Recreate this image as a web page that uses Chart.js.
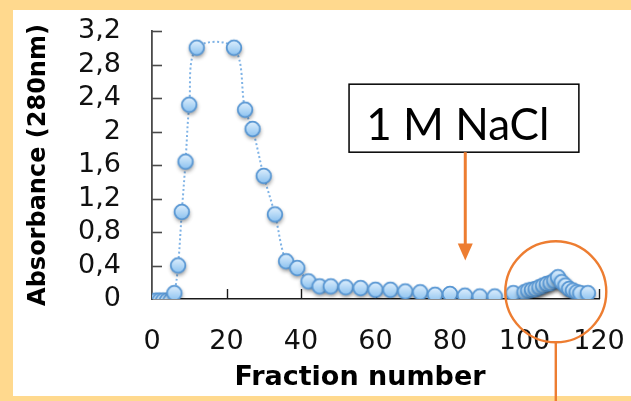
<!DOCTYPE html>
<html>
<head>
<meta charset="utf-8">
<script src="https://cdn.jsdelivr.net/npm/chart.js@4.4.1/dist/chart.umd.min.js"></script>
<style>
  html, body { margin: 0; padding: 0; background: #ffd98e; }
  #wrap { width: 631px; height: 401px; }
</style>
</head>
<body>
<div id="wrap"><canvas id="c" width="631" height="401"></canvas></div>
<script>
// Elution profile: absorbance at 280 nm per collected fraction
const fractions = [1, 2, 3, 4, 5, 6, 7, 8, 9, 10, 12, 22, 25, 27, 30, 33, 36, 39, 42, 45,
  48, 52, 56, 60, 64, 68, 72, 76, 80, 84, 88, 92, 97, 100, 101, 102, 103, 104, 105, 106,
  107, 108, 109, 110, 111, 112, 113, 114, 115, 117];
const absorbance = [-0.02, -0.02, -0.02, -0.02, -0.02, 0.07, 0.40, 1.04, 1.64, 2.32, 3.00, 3.00, 2.26, 2.03, 1.47, 1.01, 0.45, 0.37, 0.21, 0.15,
  0.15, 0.14, 0.13, 0.11, 0.11, 0.09, 0.08, 0.05, 0.06, 0.04, 0.03, 0.03, 0.07, 0.08, 0.10, 0.11, 0.12, 0.14, 0.16, 0.18,
  0.19, 0.22, 0.26, 0.20, 0.16, 0.12, 0.10, 0.08, 0.07, 0.07];

const xTickValues = [0, 20, 40, 60, 80, 100, 120];
const yTickValues = [0, 0.4, 0.8, 1.2, 1.6, 2, 2.4, 2.8, 3.2];

const xTitle = 'Fraction number';
const yTitle = 'Absorbance (280nm)';
const boxLabel = '1 M NaCl';

// Glossy blue marker with a soft drop shadow
function makeMarker() {
  const s = 30, c = document.createElement('canvas');
  c.width = s; c.height = s;
  const g = c.getContext('2d');
  const cx = s / 2, cy = s / 2, r = 7.3;
  g.save();
  g.shadowColor = 'rgba(0,0,0,0.45)';
  g.shadowBlur = 4;
  g.shadowOffsetX = 0.5;
  g.shadowOffsetY = 2.5;
  const grad = g.createLinearGradient(0, cy - r, 0, cy + r);
  grad.addColorStop(0, '#deeffd');
  grad.addColorStop(1, '#8cc2f0');
  g.beginPath(); g.arc(cx, cy, r, 0, Math.PI * 2);
  g.fillStyle = grad; g.fill();
  g.restore();
  g.beginPath(); g.arc(cx, cy, r, 0, Math.PI * 2);
  g.lineWidth = 1.8; g.strokeStyle = '#5796d3'; g.stroke();
  return c;
}
const marker = makeMarker();

const points = fractions.map((f, i) => ({ x: f, y: absorbance[i] }));

const ORANGE = '#ed7d31';

const decor = {
  id: 'decor',
  beforeDraw(chart) {
    const ctx = chart.ctx;
    ctx.save();
    ctx.fillStyle = '#ffd98e';
    ctx.fillRect(0, 0, chart.width, chart.height);
    ctx.fillStyle = '#ffffff';
    ctx.fillRect(13, 10, chart.width - 13, 386);
    ctx.restore();
  },
  beforeDatasetsDraw(chart) {
    // inward tick marks on both axes
    const ctx = chart.ctx, xs = chart.scales.x, ys = chart.scales.y;
    const a = chart.chartArea;
    ctx.save();
    ctx.strokeStyle = '#4a4a4a';
    ctx.lineWidth = 1.6;
    yTickValues.forEach(v => {
      if (v === 0) return;
      const y = Math.round(ys.getPixelForValue(v)) + 0.5;
      ctx.beginPath(); ctx.moveTo(a.left, y); ctx.lineTo(a.left + 10, y); ctx.stroke();
    });
    ctx.strokeStyle = '#1a1a1a';
    ctx.lineWidth = 1.4;
    xTickValues.forEach(v => {
      if (v === 0) return;
      const x = Math.round(xs.getPixelForValue(v)) + 0.5;
      ctx.beginPath(); ctx.moveTo(x, a.bottom); ctx.lineTo(x, a.bottom - 10); ctx.stroke();
    });
    ctx.restore();
  },
  afterDraw(chart) {
    const ctx = chart.ctx, xs = chart.scales.x, ys = chart.scales.y;
    ctx.save();

    // x axis title
    ctx.fillStyle = '#000';
    ctx.font = 'bold 27px "DejaVu Sans"';
    ctx.textAlign = 'center';
    ctx.textBaseline = 'alphabetic';
    ctx.fillText(xTitle, 360, 385);

    // "1 M NaCl" label box
    const bx1 = xs.getPixelForValue(52.9), bx2 = xs.getPixelForValue(114.6);
    const by1 = ys.getPixelForValue(2.565), by2 = ys.getPixelForValue(1.753);
    ctx.fillStyle = '#fff';
    ctx.fillRect(bx1, by1, bx2 - bx1, by2 - by1);
    ctx.strokeStyle = '#000';
    ctx.lineWidth = 1.5;
    ctx.strokeRect(bx1, by1, bx2 - bx1, by2 - by1);
    ctx.fillStyle = '#000';
    ctx.font = '44px Lato';
    ctx.textAlign = 'center';
    ctx.fillText(boxLabel, xs.getPixelForValue(82.1), ys.getPixelForValue(1.896));

    // arrow from the box down to the baseline region
    const ax = xs.getPixelForValue(84.1);
    const tipY = ys.getPixelForValue(0.46);
    ctx.strokeStyle = ORANGE;
    ctx.fillStyle = ORANGE;
    ctx.lineWidth = 3;
    ctx.beginPath(); ctx.moveTo(ax, by2); ctx.lineTo(ax, tipY - 14); ctx.stroke();
    ctx.beginPath();
    ctx.moveTo(ax - 7.5, tipY - 17);
    ctx.lineTo(ax + 7.5, tipY - 17);
    ctx.lineTo(ax, tipY);
    ctx.closePath(); ctx.fill();

    // circle around the late peak with a leader line
    const cx = xs.getPixelForValue(108.4), cy = ys.getPixelForValue(0.086);
    const r = 50.5;
    ctx.lineWidth = 2.4;
    ctx.beginPath(); ctx.arc(cx, cy, r, 0, Math.PI * 2); ctx.stroke();
    ctx.beginPath(); ctx.moveTo(cx, cy + r); ctx.lineTo(cx, chart.height); ctx.stroke();

    ctx.restore();
  }
};

const tickFont = { family: '"DejaVu Sans"', size: 27, weight: 'normal' };

new Chart(document.getElementById('c'), {
  type: 'line',
  data: {
    datasets: [{
      data: points,
      borderColor: '#7fb3e6',
      borderWidth: 2,
      borderDash: [2, 2.5],
      tension: 0.35,
      pointStyle: marker,
      pointRadius: 7,
      pointHoverRadius: 7,
      fill: false
    }]
  },
  options: {
    responsive: false,
    animation: false,
    devicePixelRatio: 1,
    layout: { padding: { left: 13, right: 32, top: 31, bottom: 6 } },
    plugins: { legend: { display: false }, tooltip: { enabled: false } },
    scales: {
      x: {
        type: 'linear',
        min: 0, max: 120,
        afterBuildTicks: s => { s.ticks = xTickValues.map(v => ({ value: v })); },
        afterFit: s => { s.height = 96; s.paddingLeft = 0; s.paddingRight = 0; },
        grid: { drawOnChartArea: false, drawTicks: false },
        border: { display: true, color: '#1a1a1a', width: 1.4 },
        ticks: {
          autoSkip: false, maxRotation: 0, padding: 27,
          color: '#111', font: tickFont
        },
        title: { display: false }
      },
      y: {
        min: 0, max: 3.2,
        afterBuildTicks: s => { s.ticks = yTickValues.map(v => ({ value: v })); },
        afterFit: s => { s.width = 139; s.paddingTop = 0; s.paddingBottom = 0; },
        grid: { drawOnChartArea: false, drawTicks: false },
        border: { display: true, color: '#4a4a4a', width: 1.8 },
        ticks: {
          autoSkip: false, padding: 31, color: '#111', font: tickFont,
          callback: v => String(Number(v.toFixed(1))).replace('.', ',')
        },
        title: {
          display: true, text: yTitle, color: '#000',
          font: { family: '"DejaVu Sans"', size: 24, weight: 'bold' },
          padding: { top: 11, bottom: 0 }
        }
      }
    }
  },
  plugins: [decor]
});
</script>
</body>
</html>
